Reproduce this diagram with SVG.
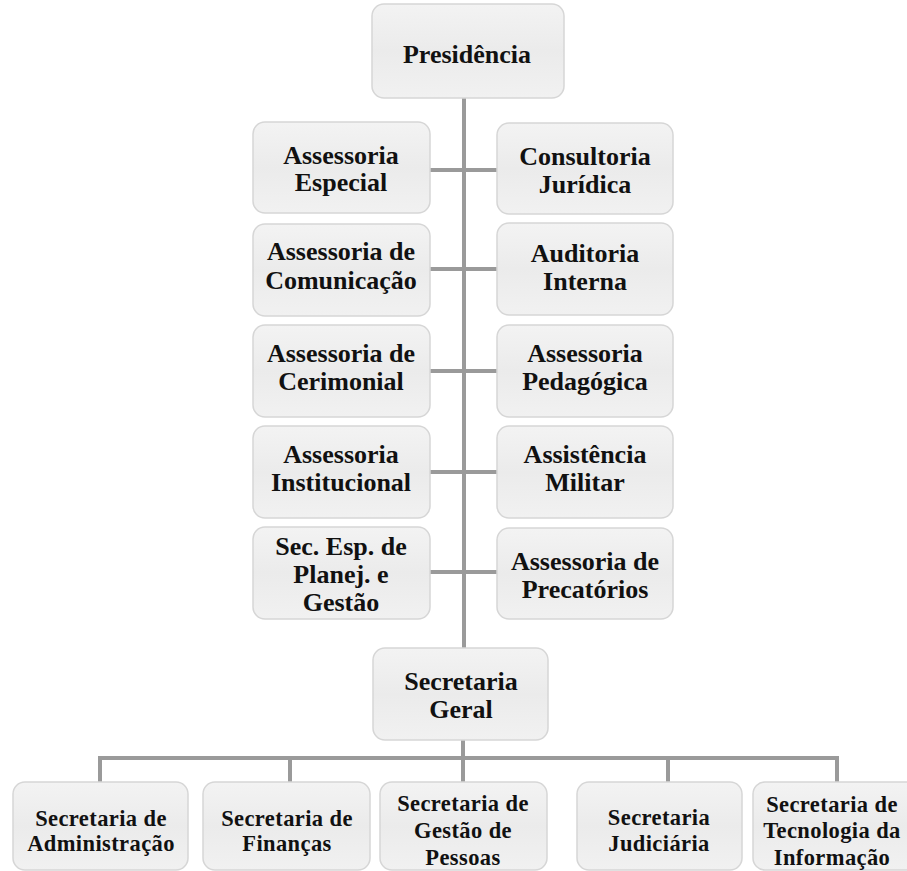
<svg xmlns="http://www.w3.org/2000/svg" width="907" height="871" viewBox="0 0 907 871">
<defs>
<linearGradient id="bg" x1="0" y1="0" x2="0" y2="1">
<stop offset="0" stop-color="#f3f3f3"/>
<stop offset="0.5" stop-color="#ebebeb"/>
<stop offset="1" stop-color="#f1f1f1"/>
</linearGradient>
</defs>
<style>
.box{fill:url(#bg);stroke:#d6d6d6;stroke-width:1.5}
.t{font-family:"Liberation Serif","Times New Roman",serif;font-weight:bold;font-size:26px;fill:#111;text-anchor:middle}
.b{font-family:"Liberation Serif","Times New Roman",serif;font-weight:bold;font-size:22.5px;letter-spacing:0.4px;fill:#111;text-anchor:middle}
.c{fill:none;stroke:#9a9a9a;stroke-width:4}
</style>
<rect width="907" height="871" fill="#ffffff"/>
<g id="connectors">
<path class="c" d="M464 98 V648"/>
<path class="c" d="M430 170 H497"/>
<path class="c" d="M430 269 H497"/>
<path class="c" d="M430 371 H497"/>
<path class="c" d="M430 472 H497"/>
<path class="c" d="M430 572 H497"/>
<path class="c" d="M463 740 V758"/>
<path class="c" d="M100 782 V758 H837 V782"/>
<path class="c" d="M290 758 V782"/>
<path class="c" d="M463 758 V782"/>
<path class="c" d="M668 758 V782"/>
</g>
<g id="presidencia">
<rect class="box" x="372" y="4" width="192" height="94" rx="12"/>
<text class="t" x="467" y="63">Presidência</text>
</g>
<g id="assessoria-especial">
<rect class="box" x="253" y="122" width="177" height="91" rx="12"/>
<text class="t" x="341" y="164">Assessoria</text>
<text class="t" x="341" y="191">Especial</text>
</g>
<g id="consultoria-juridica">
<rect class="box" x="497" y="123" width="176" height="91" rx="12"/>
<text class="t" x="585" y="165">Consultoria</text>
<text class="t" x="585" y="193">Jurídica</text>
</g>
<g id="assessoria-comunicacao">
<rect class="box" x="253" y="224" width="177" height="92" rx="12"/>
<text class="t" x="341" y="260">Assessoria de</text>
<text class="t" x="341" y="289">Comunicação</text>
</g>
<g id="auditoria-interna">
<rect class="box" x="497" y="223" width="176" height="92" rx="12"/>
<text class="t" x="585" y="262">Auditoria</text>
<text class="t" x="585" y="290">Interna</text>
</g>
<g id="assessoria-cerimonial">
<rect class="box" x="253" y="325" width="177" height="92" rx="12"/>
<text class="t" x="341" y="362">Assessoria de</text>
<text class="t" x="341" y="390">Cerimonial</text>
</g>
<g id="assessoria-pedagogica">
<rect class="box" x="497" y="325" width="176" height="92" rx="12"/>
<text class="t" x="585" y="362">Assessoria</text>
<text class="t" x="585" y="390">Pedagógica</text>
</g>
<g id="assessoria-institucional">
<rect class="box" x="253" y="426" width="177" height="92" rx="12"/>
<text class="t" x="341" y="463">Assessoria</text>
<text class="t" x="341" y="491">Institucional</text>
</g>
<g id="assistencia-militar">
<rect class="box" x="497" y="426" width="176" height="92" rx="12"/>
<text class="t" x="585" y="463">Assistência</text>
<text class="t" x="585" y="491">Militar</text>
</g>
<g id="sec-esp-planej">
<rect class="box" x="253" y="527" width="177" height="92" rx="12"/>
<text class="t" x="341" y="555">Sec. Esp. de</text>
<text class="t" x="341" y="583">Planej. e</text>
<text class="t" x="341" y="611">Gestão</text>
</g>
<g id="assessoria-precatorios">
<rect class="box" x="497" y="528" width="176" height="91" rx="12"/>
<text class="t" x="585" y="570">Assessoria de</text>
<text class="t" x="585" y="598">Precatórios</text>
</g>
<g id="secretaria-geral">
<rect class="box" x="373" y="648" width="175" height="92" rx="12"/>
<text class="t" x="461" y="690">Secretaria</text>
<text class="t" x="461" y="718">Geral</text>
</g>
<g id="sec-administracao">
<rect class="box" x="13" y="782" width="175" height="88" rx="12"/>
<text class="b" x="101" y="826">Secretaria de</text>
<text class="b" x="101" y="851">Administração</text>
</g>
<g id="sec-financas">
<rect class="box" x="203" y="782" width="167" height="88" rx="12"/>
<text class="b" x="287" y="826">Secretaria de</text>
<text class="b" x="287" y="851">Finanças</text>
</g>
<g id="sec-gestao-pessoas">
<rect class="box" x="380" y="782" width="167" height="88" rx="12"/>
<text class="b" x="463" y="811">Secretaria de</text>
<text class="b" x="463" y="838">Gestão de</text>
<text class="b" x="463" y="865">Pessoas</text>
</g>
<g id="sec-judiciaria">
<rect class="box" x="577" y="782" width="165" height="88" rx="12"/>
<text class="b" x="659" y="825">Secretaria</text>
<text class="b" x="659" y="851">Judiciária</text>
</g>
<g id="sec-tecnologia">
<rect class="box" x="753" y="782" width="168" height="88" rx="12"/>
<text class="b" x="832" y="812">Secretaria de</text>
<text class="b" x="832" y="838">Tecnologia da</text>
<text class="b" x="832" y="865">Informação</text>
</g>
</svg>
